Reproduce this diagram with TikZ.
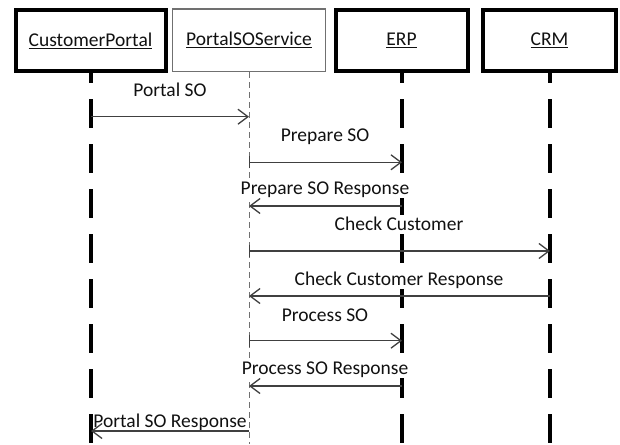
\documentclass[tikz,border=0pt]{standalone}
\usepackage{fontspec}
\setmainfont{Carlito}
\usetikzlibrary{arrows.meta}

\definecolor{msgline}{HTML}{404040}
\definecolor{thinframe}{HTML}{707070}
\definecolor{inktext}{HTML}{111111}

\begin{document}
\begin{tikzpicture}[x=1pt,y=-1pt,
  font=\fontsize{19.5}{23}\selectfont,
  every node/.style={text=inktext},
  actor/.style={draw=black,line width=4pt,inner sep=0pt,minimum height=61pt,fill=white},
  service/.style={draw=thinframe,line width=1.2pt,inner sep=0pt,minimum height=62.5pt,fill=white},
  lifeline/.style={draw=black,line width=4pt,dash pattern=on 29pt off 16pt,dash phase=18pt},
  servline/.style={draw=thinframe,line width=1pt,dash pattern=on 6pt off 4pt},
  msg/.style={draw=msgline,line width=1.3pt,-{Straight Barb[length=10pt,width=15pt,line width=1.3pt]}},
  msgout/.style={msg,{Bar[width=12pt,line width=1.3pt]}-{Straight Barb[length=10pt,width=15pt,line width=1.3pt]}},
  msglabel/.style={anchor=base,inner xsep=0pt,inner ysep=1pt,fill=white}
]
\useasboundingbox (0,0) rectangle (620,444);
\fill[white] (0,0) rectangle (620,444);

% lifeline x positions and their lower ends
\coordinate (cpEnd) at (91,444);
\coordinate (svEnd) at (249,444);
\coordinate (erpEnd) at (402,444);
\coordinate (crmEnd) at (550,444);

% lifelines, drawn first so the boxes and labels sit on top
\draw[lifeline] (91,72) -- (cpEnd);
\draw[servline] (249,72) -- (svEnd);
\draw[lifeline] (402,72) -- (erpEnd);
\draw[lifeline] (550,72) -- (crmEnd);

% participant boxes
\node[actor,minimum width=150pt] (cp) at (90.5,40.5) {\underline{CustomerPortal}};
\node[service,minimum width=153.5pt] (sv) at (249,40.3) {\underline{PortalSOService}};
\node[actor,minimum width=132pt] (erp) at (401.5,40.5) {\underline{ERP}};
\node[actor,minimum width=133pt] (crm) at (549.5,40.5) {\underline{CRM}};

% message labels (white backing hides the lifelines behind the text)
\node[msglabel] (m1) at (170,96.7) {Portal SO};
\node[msglabel] (m2) at (325,141.7) {Prepare SO};
\node[msglabel] (m3) at (325,194) {Prepare SO Response};
\node[msglabel] (m4) at (399,230) {Check Customer};
\node[msglabel] (m5) at (399,285) {Check Customer Response};
\node[msglabel] (m6) at (325,321) {Process SO};
\node[msglabel] (m7) at (325,374) {Process SO Response};
\node[msglabel] (m8) at (170,427) {Portal SO Response};

% messages
\draw[msg] (cpEnd |- 0,116.7) -- (svEnd |- 0,116.7);
\draw[msgout] (svEnd |- 0,162.3) -- (erpEnd |- 0,162.3);
\draw[msg] (erpEnd |- 0,206) -- (svEnd |- 0,206);
\draw[msgout] (svEnd |- 0,251) -- (crmEnd |- 0,251);
\draw[msg] (crmEnd |- 0,296) -- (svEnd |- 0,296);
\draw[msgout] (svEnd |- 0,340.7) -- (erpEnd |- 0,340.7);
\draw[msg] (erpEnd |- 0,386) -- (svEnd |- 0,386);
\draw[msg] (svEnd |- 0,431) -- (cpEnd |- 0,431);
\end{tikzpicture}
\end{document}
